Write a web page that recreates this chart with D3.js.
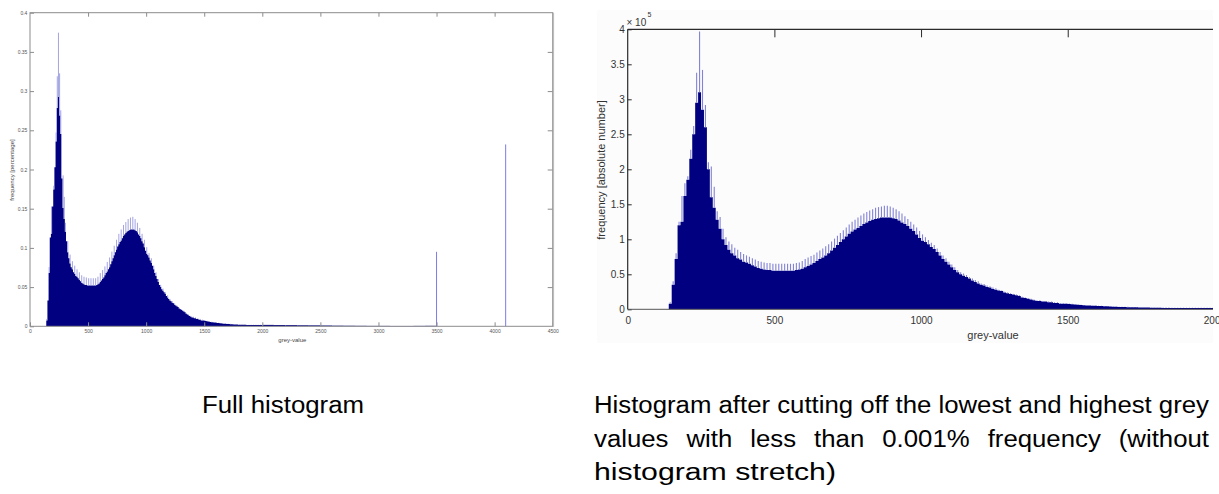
<!DOCTYPE html>
<html><head><meta charset="utf-8">
<script src="https://cdn.jsdelivr.net/npm/d3@7"></script>
<style>body{margin:0;background:#fff}svg{display:block}</style>
</head><body>
<svg id="c" width="1219" height="494"></svg>
<script>
// ---------------- DATA ----------------
// histogram bins of 10 grey values, starting at 130; counts in units of 1e5 pixels
const binStart = 130;
const binWidth = 10;
// dark (lower) envelope of the bars
const countsLow = [
 0.00,0.08,0.35,0.72,1.20,1.25,1.62,1.85,2.15,2.50, // 130-220
 2.95,3.10,2.85,2.60,2.00,1.60,1.45,1.28,1.15,1.00, // 230-320
 0.92,0.85,0.80,0.77,0.73,0.71,0.68,0.67,0.65,0.63, // 330-420
 0.61,0.59,0.58,0.57,0.56,0.56,0.55,0.55,0.55,0.55, // 430-520
 0.55,0.55,0.55,0.55,0.56,0.57,0.58,0.60,0.62,0.64, // 530-620
 0.66,0.69,0.72,0.74,0.77,0.80,0.84,0.88,0.92,0.96, // 630-720
 1.00,1.04,1.08,1.11,1.14,1.16,1.19,1.22,1.24,1.26, // 730-820
 1.28,1.29,1.30,1.31,1.31,1.31,1.31,1.30,1.29,1.27, // 830-920
 1.24,1.22,1.19,1.15,1.12,1.07,1.02,0.98,0.96,0.93, // 930-1020
 0.89,0.86,0.82,0.77,0.72,0.68,0.64,0.60,0.56,0.53, // 1030-1120
 0.50,0.48,0.46,0.44,0.41,0.39,0.37,0.35,0.34,0.32, // 1130-1220
 0.31,0.29,0.28,0.27,0.26,0.24,0.23,0.22,0.21,0.20, // 1230-1320
 0.19,0.17,0.16,0.15,0.14,0.13,0.12,0.12,0.11,0.11, // 1330-1420
 0.10,0.10,0.09,0.09,0.08,0.08,0.078,0.075,0.071,0.068, // 1430-1520
 0.064,0.061,0.058,0.056,0.054,0.052,0.050,0.048,0.046,0.044, // 1530-1620
 0.042,0.040,0.038,0.036,0.034,0.033,0.032,0.031,0.030,0.029, // 1630-1720
 0.028,0.027,0.026,0.025,0.024,0.023,0.022,0.021,0.021,0.020, // 1730-1820
 0.020,0.020,0.020,0.019,0.019,0.019,0.019,0.019,0.018,0.018, // 1830-1920
 0.018,0.018,0.018,0.018,0.018,0.018,0.018              // 1930-1990
];
// light (upper) tips of the alternating bars
const countsHigh = [
 0.00,0.10,0.40,0.80,1.25,1.62,1.80,1.90,2.28,2.62,
 3.38,3.97,3.42,2.92,2.10,2.04,1.75,1.40,1.32,1.15,
 1.03,0.97,0.93,0.88,0.85,0.82,0.79,0.77,0.75,0.73,
 0.71,0.69,0.68,0.67,0.66,0.66,0.65,0.65,0.65,0.65,
 0.65,0.65,0.65,0.65,0.66,0.67,0.69,0.72,0.74,0.76,
 0.78,0.81,0.84,0.87,0.90,0.93,0.97,1.01,1.05,1.09,
 1.13,1.17,1.21,1.25,1.28,1.31,1.34,1.37,1.39,1.41,
 1.43,1.45,1.46,1.47,1.48,1.48,1.47,1.45,1.43,1.40,
 1.37,1.33,1.29,1.25,1.21,1.17,1.12,1.07,1.03,0.99,
 0.95,0.92,0.87,0.82,0.77,0.73,0.68,0.64,0.60,0.56,
 0.53,0.51,0.49,0.46,0.44,0.42,0.40,0.37,0.36,0.34,
 0.33,0.31,0.30,0.28,0.27,0.25,0.24,0.23,0.22,0.21,
 0.20,0.18,0.17,0.16,0.15,0.14,0.13,0.13,0.12,0.12,
 0.11,0.11,0.10,0.10,0.09,0.09,0.085,0.082,0.078,0.074,
 0.070,0.066,0.063,0.061,0.058,0.056,0.054,0.052,0.050,0.048,
 0.046,0.044,0.042,0.040,0.038,0.037,0.036,0.035,0.034,0.033,
 0.032,0.031,0.030,0.029,0.028,0.027,0.026,0.025,0.025,0.024,
 0.024,0.024,0.023,0.023,0.023,0.022,0.022,0.022,0.022,0.022,
 0.021,0.021,0.021,0.021,0.021,0.021,0.021
];
// full histogram extras (percent)
const totalPixels = 1.06e8;
const tailGrey = [2000,2100,2200,2300,2400,2500,2600,2700,2800,2900,3000,3100,3200,3300,3400];
const tailPct  = [0.0018,0.0016,0.0015,0.0013,0.0012,0.0010,0.0008,0.0007,0.0006,0.0005,0.0005,0.0004,0.0004,0.0005,0.0006];
const spikeGrey = [3500, 4095];
const spikePct  = [0.095, 0.232];
// ticks
const leftXTicks = [0,500,1000,1500,2000,2500,3000,3500,4000,4500];
const leftYTicks = [0,0.05,0.1,0.15,0.2,0.25,0.3,0.35,0.4];
const rightXTicks = [0,500,1000,1500,2000];
const rightYTicks = [0,0.5,1,1.5,2,2.5,3,3.5,4];

const caption1 = "Full histogram";
const caption2Lines = [
  "Histogram after cutting off the lowest and highest grey",
  "values with less than 0.001% frequency (without",
  "histogram stretch)"
];

// ---------------- DRAW ----------------
const NAVY = "#000080", LIGHT = "#8282d8";
const FONT = "'Liberation Sans', Arial, Helvetica, sans-serif";
const svg = d3.select("#c").style("font-family", FONT);
svg.append("rect").attr("width",1219).attr("height",494).attr("fill","#fff");

const bins = countsLow.map((v,i)=>({i, g: binStart + i*binWidth, lo: v, hi: countsHigh[i]}));
const binsExt = bins.concat([{g: binStart + bins.length*binWidth, lo: 0, hi: 0}]);

// ===== LEFT: full histogram (percentage) =====
const xL = d3.scaleLinear().domain([0,4500]).range([30,552.7]);
const yL = d3.scaleLinear().domain([0,0.4]).range([326.3,12.7]);
const pct = c => c*1e5/totalPixels*100;
const L = svg.append("g");
const GRAYAX = "#8c8c8c";

L.append("path").datum(binsExt)
  .attr("fill", NAVY)
  .attr("d", d3.area().curve(d3.curveStepAfter).x(d=>xL(d.g)).y0(yL(0)).y1(d=>yL(pct(d.lo))));
L.selectAll("line.ls").data(bins.filter(d=>d.hi>d.lo && (d.i%2===1 || d.hi-d.lo>0.2))).join("line")
  .attr("x1", d=>xL(d.g+binWidth/2)).attr("x2", d=>xL(d.g+binWidth/2))
  .attr("y1", d=>yL(pct(d.lo))).attr("y2", d=>yL(pct(d.hi)))
  .attr("stroke", "#8c8cdc").attr("stroke-width", 0.8);
L.selectAll("rect.tail").data(tailGrey).join("rect")
  .attr("x", d=>xL(d)).attr("width", d=>xL(d+100)-xL(d))
  .attr("y", (d,i)=>yL(tailPct[i])).attr("height", (d,i)=>yL(0)-yL(tailPct[i]))
  .attr("fill", NAVY);
L.selectAll("line.spike").data(spikeGrey).join("line")
  .attr("x1", d=>xL(d)).attr("x2", d=>xL(d))
  .attr("y1", yL(0)).attr("y2", (d,i)=>yL(spikePct[i]))
  .attr("stroke", "#7c7ce6").attr("stroke-width", 1);

function styleAxis(g, color, fs, tcol){
  g.select(".domain").remove();
  g.selectAll(".tick line").attr("stroke", color);
  g.selectAll(".tick text").attr("fill", tcol).style("font-size", fs+"px").style("font-family", FONT);
}
const lfmt = d => String(d);
L.append("g").attr("transform",`translate(0,${yL(0)})`)
  .call(d3.axisBottom(xL).tickValues(leftXTicks).tickFormat(lfmt).tickSizeInner(-4).tickSizeOuter(0).tickPadding(3.4))
  .call(g=>styleAxis(g, GRAYAX, 5, "#555"));
L.append("g").attr("transform",`translate(0,${yL(0.4)})`)
  .call(d3.axisTop(xL).tickValues(leftXTicks.slice(1,-1)).tickFormat("").tickSizeInner(-4).tickSizeOuter(0))
  .call(g=>styleAxis(g, GRAYAX, 5, "#555"));
L.append("g").attr("transform",`translate(${xL(0)},0)`)
  .call(d3.axisLeft(yL).tickValues(leftYTicks).tickFormat(lfmt).tickSizeInner(-4).tickSizeOuter(0).tickPadding(2.6))
  .call(g=>styleAxis(g, GRAYAX, 5, "#555"));
L.append("g").attr("transform",`translate(${xL(4500)},0)`)
  .call(d3.axisRight(yL).tickValues(leftYTicks.slice(1,-1)).tickFormat("").tickSizeInner(-5).tickSizeOuter(0))
  .call(g=>styleAxis(g, GRAYAX, 5, "#555"));
L.append("rect").attr("x", xL(0)).attr("y", yL(0.4))
  .attr("width", xL(4500)-xL(0)).attr("height", yL(0)-yL(0.4))
  .attr("fill","none").attr("stroke", GRAYAX).attr("stroke-width",1);
L.append("line").attr("x1",xL(4500)+0.8).attr("x2",xL(4500)+0.8).attr("y1",yL(0.4)).attr("y2",yL(0)+0.5)
  .attr("stroke","#bdbdbd").attr("stroke-width",1.2);
L.append("text").attr("x",(xL(0)+xL(4500))/2+1).attr("y",342).attr("text-anchor","middle")
  .style("font-size","6px").attr("fill","#444").text("grey-value");
L.append("text").attr("transform","translate(14.3,170) rotate(-90)").attr("text-anchor","middle")
  .style("font-size","6px").attr("fill","#444").text("frequency [percentage]");

// ===== RIGHT: cut histogram (absolute) =====
const xR = d3.scaleLinear().domain([0,2000]).range([627.7,1214.4]);
const yR = d3.scaleLinear().domain([0,4]).range([309.3,29.3]);
svg.append("defs").append("clipPath").attr("id","rc")
  .append("rect").attr("x",0).attr("y",0).attr("width",1213).attr("height",494);
svg.append("rect").attr("x",597).attr("y",10).attr("width",616).attr("height",333).attr("fill","#fcfcfc");
const R = svg.append("g").attr("clip-path","url(#rc)");

R.append("path").datum(binsExt)
  .attr("fill", NAVY)
  .attr("d", d3.area().curve(d3.curveStepAfter).x(d=>xR(d.g)).y0(yR(0)).y1(d=>yR(d.lo)));
R.selectAll("line.rs").data(bins.filter(d=>d.hi>d.lo)).join("line")
  .attr("x1", d=>xR(d.g+binWidth/2)).attr("x2", d=>xR(d.g+binWidth/2))
  .attr("y1", d=>yR(d.lo)).attr("y2", d=>yR(d.hi))
  .attr("stroke", LIGHT).attr("stroke-width", 1.1);

const AX = "#2a2a2a";
R.append("g").attr("transform",`translate(0,${yR(4)})`)
  .call(d3.axisTop(xR).tickValues(rightXTicks.slice(1,-1)).tickFormat("").tickSizeInner(-8).tickSizeOuter(0))
  .call(g=>styleAxis(g, AX, 10, "#333"));
R.append("g").attr("transform",`translate(${xR(0)},0)`)
  .call(d3.axisLeft(yR).tickValues(rightYTicks).tickFormat(d=>String(d)).tickSizeInner(-4).tickSizeOuter(0).tickPadding(3))
  .call(g=>styleAxis(g, AX, 10, "#333"));
R.append("line").attr("x1",xR(0)).attr("x2",1213).attr("y1",yR(0)).attr("y2",yR(0)).attr("stroke","#555");
R.append("line").attr("x1",xR(0)).attr("x2",1213).attr("y1",yR(4)).attr("y2",yR(4)).attr("stroke",AX).attr("stroke-width",1.2);
R.append("line").attr("x1",xR(0)).attr("x2",xR(0)).attr("y1",yR(4)).attr("y2",yR(0)).attr("stroke",AX).attr("stroke-width",1.2);
// bottom axis labels (not clipped, the last one runs off the picture as in the original)
svg.append("g").attr("transform",`translate(0,${yR(0)})`)
  .call(d3.axisBottom(xR).tickValues(rightXTicks).tickFormat(d=>String(d)).tickSizeInner(0).tickSizeOuter(0).tickPadding(7.4))
  .call(g=>styleAxis(g, AX, 10, "#333"));
svg.append("text").attr("x",626.5).attr("y",25.5).style("font-size","10px").attr("fill","#333").text("\u00d7 10");
svg.append("text").attr("x",647.5).attr("y",17).style("font-size","7px").attr("fill","#333").text("5");
svg.append("text").attr("x",993).attr("y",339).attr("text-anchor","middle")
  .style("font-size","11px").attr("fill","#333").text("grey-value");
svg.append("text").attr("transform","translate(605,170) rotate(-90)").attr("text-anchor","middle")
  .style("font-size","11px").attr("fill","#333").text("frequency [absolute number]");

// ===== CAPTIONS =====
const CFS = 23;
const cap = svg.append("g").style("font-size", CFS+"px").attr("fill","#000");
function fitText(str, x, y, w){
  cap.append("text").attr("x",x).attr("y",y).attr("textLength",w).attr("lengthAdjust","spacingAndGlyphs").text(str);
}
function justifyLine(str, x0, x1, y, sx){
  const words = str.split(" ");
  const nodes = words.map(w => cap.append("text").attr("y", y).text(w));
  const widths = nodes.map(n => n.node().getComputedTextLength()*sx);
  nodes.forEach((n,i)=> n.attr("textLength", widths[i]).attr("lengthAdjust","spacingAndGlyphs"));
  const gap = (x1-x0-d3.sum(widths))/(words.length-1);
  let x = x0;
  nodes.forEach((n,i)=>{ n.attr("x", x); x += widths[i]+gap; });
}
fitText(caption1, 202, 413, 162);
justifyLine(caption2Lines[0], 594, 1209, 413, 1.12);
justifyLine(caption2Lines[1], 594, 1209, 447, 1.12);
fitText(caption2Lines[2], 594, 480, 242);
</script>
</body></html>
